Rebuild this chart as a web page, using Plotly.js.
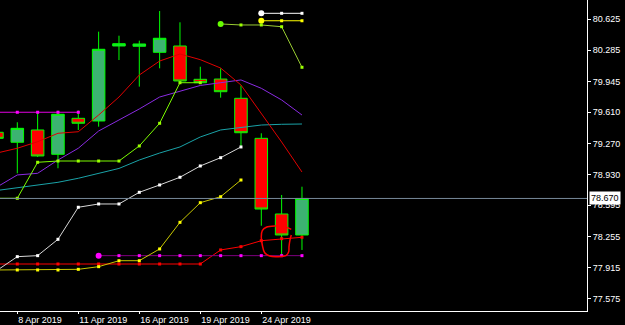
<!DOCTYPE html>
<html>
<head>
<meta charset="utf-8">
<script src="https://cdn.plot.ly/plotly-3.0.1.min.js"></script>
<style>html,body{margin:0;padding:0;background:#000;}#chart{width:625px;height:325px;}</style>
</head>
<body>
<div id="chart"></div>
<script>
// Trading days (one bar each)
const days = ['2019-04-05','2019-04-08','2019-04-09','2019-04-10','2019-04-11','2019-04-12','2019-04-15','2019-04-16','2019-04-17','2019-04-18','2019-04-19','2019-04-22','2019-04-23','2019-04-24','2019-04-25','2019-04-26'];
const tickDays = ['2019-04-08','2019-04-11','2019-04-16','2019-04-19','2019-04-24'];
const tickLabels = ['8 Apr 2019','11 Apr 2019','16 Apr 2019','19 Apr 2019','24 Apr 2019'];
const priceTicks = [77.575, 77.915, 78.255, 78.595, 78.930, 79.270, 79.610, 79.945, 80.285, 80.625];

// OHLC
const open  = [79.391, 79.282, 79.416, 79.151, 79.543, 79.514, 80.331, 80.328, 80.262, 80.331, 79.968, 79.971, 79.761, 79.325, 78.501, 78.272];
const high  = [79.420, 79.500, 79.615, 79.626, 79.628, 80.487, 80.443, 80.389, 80.712, 80.589, 80.105, 80.088, 79.901, 79.380, 78.708, 78.798];
const low   = [79.300, 78.944, 79.122, 78.999, 79.416, 79.452, 80.178, 79.888, 80.088, 79.939, 79.928, 79.768, 79.234, 78.373, 78.054, 78.109];
const close = [79.325, 79.434, 79.133, 79.587, 79.489, 80.295, 80.356, 80.353, 80.415, 79.950, 79.931, 79.833, 79.386, 78.555, 78.272, 78.670];

// Indicator lines
const maRed    = [79.165, 79.217, 79.288, 79.380, 79.397, 79.579, 79.775, 80.015, 80.167, 80.244, 80.182, 80.091, 79.906, 79.601, 79.285, 78.958];
const maPurple = [78.795, 78.926, 78.944, 79.089, 79.217, 79.405, 79.525, 79.645, 79.775, 79.835, 79.901, 79.931, 79.961, 79.870, 79.743, 79.579];
const maTeal   = [78.757, 78.787, 78.817, 78.846, 78.890, 78.942, 78.997, 79.089, 79.165, 79.231, 79.340, 79.416, 79.445, 79.470, 79.478, 79.481];
const limeLow  = [78.672, 78.672, 79.064, 79.078, 79.078, 79.078, 79.078, 79.242, 79.489, 79.931, 79.931, null, null, null, null, null];
const limeHigh = [null, null, null, null, null, null, null, null, null, null, null, 80.571, 80.560, 80.560, 80.541, 80.099];
const whiteLow = [77.886, 78.036, 78.047, 78.225, 78.574, 78.610, 78.610, 78.737, 78.817, 78.901, 79.024, 79.114, 79.231, null, null, null];
const whiteHigh= [null, null, null, null, null, null, null, null, null, null, null, null, null, 80.687, 80.687, 80.687];
const yellowLow= [77.891, 77.891, 77.891, 77.891, 77.898, 77.927, 77.992, 77.992, 78.120, 78.410, 78.624, 78.689, 78.871, null, null, null];
const yellowHigh=[null, null, null, null, null, null, null, null, null, null, null, null, null, 80.606, 80.606, 80.606];
const magentaHigh=[79.609, 79.609, 79.609, 79.609, 79.609, null, null, null, null, null, null, null, null, null, null, null];
const magentaLow =[null, null, null, null, null, 78.047, 78.047, 78.047, 78.047, 78.047, 78.047, 78.047, 78.047, 78.047, 78.047, 78.047];
const redStep  = [77.956, 77.956, 77.956, 77.956, 77.956, 77.956, 77.956, 77.956, 77.956, 77.956, 77.956, 78.109, 78.145, 78.210, 78.232, 78.247];

// Hand-drawn loop (bar index, price)
const sketchX = [14.475, 14.151, 13.659, 13.246, 13.049, 13.000, 13.049, 13.167, 13.413, 13.821, 14.230, 14.348, 14.363, 14.412, 14.475];
const sketchY = [78.334, 78.363, 78.370, 78.356, 78.319, 78.254, 78.163, 78.079, 78.043, 78.036, 78.051, 78.090, 78.145, 78.218, 78.272];

const xi = days.map((d, i) => i);
const tickvals = tickDays.map(d => days.indexOf(d));

function isStart(arr, i) { return arr[i] !== null && i > 0 && arr[i - 1] === null; }
function dotted(y, lineColor, dotColor, bigColor) {
  return {
    type: 'scatter', mode: 'lines+markers', x: xi, y: y,
    line: {color: lineColor, width: 1}, connectgaps: false,
    marker: {color: y.map((v, i) => isStart(y, i) ? bigColor : dotColor),
             size: y.map((v, i) => isStart(y, i) ? 6 : 3),
             symbol: y.map((v, i) => isStart(y, i) ? 'circle' : 'square'),
             opacity: 1, line: {width: 0}},
    hoverinfo: 'skip'
  };
}

const traces = [
  {
    type: 'candlestick', x: xi, open: open, high: high, low: low, close: close,
    increasing: {line: {color: '#00ff00', width: 1}, fillcolor: '#3cb371'},
    decreasing: {line: {color: '#00ff00', width: 1}, fillcolor: '#ff0000'},
    whiskerwidth: 0, hoverinfo: 'skip'
  },
  {type: 'scatter', mode: 'lines', x: xi, y: maTeal, line: {color: '#1aa3a8', width: 1}, hoverinfo: 'skip'},
  {type: 'scatter', mode: 'lines', x: xi, y: maPurple, line: {color: '#8a2be2', width: 1}, hoverinfo: 'skip'},
  {type: 'scatter', mode: 'lines', x: xi, y: maRed, line: {color: '#e00000', width: 1}, hoverinfo: 'skip'},
  dotted(redStep, '#ff0000', '#ff0000', '#ff0000'),
  dotted(magentaHigh, '#e000e0', '#ff00ff', '#ff00ff'),
  dotted(magentaLow, '#800080', '#ff00ff', '#ff00ff'),
  dotted(yellowLow, '#c8c800', '#ffff00', '#ffff00'),
  dotted(yellowHigh, '#ffff00', '#ffff00', '#ffff00'),
  dotted(whiteLow, '#d8d8d8', '#ffffff', '#ffffff'),
  dotted(whiteHigh, '#ffffff', '#ffffff', '#ffffff'),
  dotted(limeLow, '#7cfc00', '#9aff00', '#66ff00'),
  dotted(limeHigh, '#9acd32', '#9aff00', '#66ff00'),
  {type: 'scatter', mode: 'lines', x: sketchX, y: sketchY, line: {color: '#ff0000', width: 1.5, shape: 'spline'}, hoverinfo: 'skip'}
];

const lastClose = close[close.length - 1];
const axFont = {family: 'Liberation Sans, Arial, sans-serif', size: 9, color: '#ffffff'};

const layout = {
  width: 625, height: 325,
  margin: {l: 0, r: 38, t: 0, b: 14, pad: 0},
  paper_bgcolor: '#000000', plot_bgcolor: '#000000',
  showlegend: false,
  boxgap: 0.12,
  xaxis: {
    range: [0.149, 29.018], showgrid: false, zeroline: false,
    rangeslider: {visible: false},
    tickmode: 'array', tickvals: tickvals, ticktext: tickLabels,
    ticks: 'outside', ticklen: 2, tickcolor: '#ffffff',
    ticklabelposition: 'outside right',
    showline: true, linecolor: '#ffffff', linewidth: 1,
    tickfont: axFont, fixedrange: true
  },
  yaxis: {
    side: 'right', range: [77.444, 80.832], showgrid: false, zeroline: false,
    tickmode: 'array', tickvals: priceTicks, ticktext: priceTicks.map(v => v.toFixed(3)),
    ticks: 'outside', ticklen: 3, tickcolor: '#ffffff',
    showline: true, linecolor: '#ffffff', linewidth: 1,
    tickfont: axFont, fixedrange: true
  },
  shapes: [
    {type: 'line', xref: 'paper', x0: 0, x1: 1, yref: 'y', y0: lastClose, y1: lastClose,
     line: {color: '#778899', width: 1}, layer: 'above'}
  ],
  annotations: [
    {xref: 'paper', x: 1, xanchor: 'left', xshift: 2, yref: 'y', y: lastClose, yanchor: 'middle',
     text: lastClose.toFixed(3), showarrow: false, bgcolor: '#ffffff', borderpad: 1,
     font: {family: 'Liberation Sans, Arial, sans-serif', size: 9, color: '#000000'}}
  ]
};

Plotly.newPlot('chart', traces, layout, {displayModeBar: false, staticPlot: true});
</script>
</body>
</html>
